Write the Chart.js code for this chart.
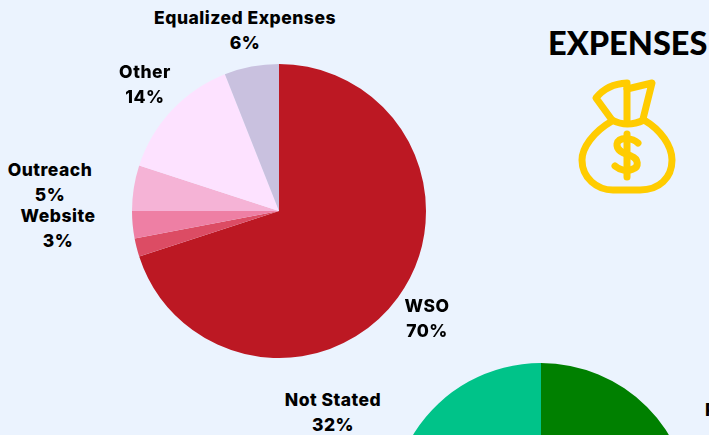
<!DOCTYPE html>
<html>
<head>
<meta charset="utf-8">
<script src="https://cdn.jsdelivr.net/npm/chart.js@4"></script>
<style>
html, body { margin: 0; padding: 0; width: 709px; height: 435px; overflow: hidden; background: #ebf3fe; }
body { position: relative; font-family: Inter, sans-serif; color: #000; }
canvas { position: absolute; }
#expensesChart { left: 132px; top: 64px; }
#secondChart { left: 391px; top: 363px; }
.label { position: absolute; transform: translateX(-50%); text-align: center; white-space: nowrap; font-weight: 800; font-size: 17.5px; letter-spacing: 0.5px; line-height: 25px; }
.cut { position: absolute; left: 705px; top: 397px; white-space: nowrap; font-weight: 800; font-size: 18px; line-height: 25px; }
h1 { position: absolute; left: 548px; top: 23px; margin: 0; font-family: Lato, sans-serif; font-size: 32.5px; line-height: 40px; font-weight: 900; white-space: nowrap; }
#bag { position: absolute; left: 575px; top: 76px; }
</style>
</head>
<body>
<canvas id="expensesChart" width="294" height="294"></canvas>
<canvas id="secondChart" width="300" height="300"></canvas>

<div class="label" style="left:245px;top:5px">Equalized Expenses<br>6%</div>
<div class="label" style="left:145px;top:59px">Other<br>14%</div>
<div class="label" style="left:50px;top:157px">Outreach<br>5%</div>
<div class="label" style="left:58px;top:203px">Website<br>3%</div>
<div class="label" style="left:427px;top:293px">WSO<br>70%</div>
<div class="label" style="left:333px;top:387px">Not Stated<br>32%</div>
<div class="cut">Paid</div>

<h1>EXPENSES</h1>

<svg id="bag" width="104" height="120" viewBox="0 0 104 120" fill="none" stroke="#ffcc00" stroke-width="7" stroke-linecap="round" stroke-linejoin="round">
  <path d="M37 45 C18 56 7 72 7 84 C7 102 22 114 38 114 L65 114 C84 114 97 102 97 84 C97 70 86 54 69 44"/>
  <path d="M37 44 Q52 52 69 44"/>
  <path d="M37 44 L21 22 Q32 8 52 7 L52 46"/>
  <path d="M52 13 L77 7 L68 43"/>
  <path d="M63 67 C58 62 44 60 42 68 C41 76 52 78 56 80 C64 83 64 91 58 93 C52 96 45 94 40 90"/>
  <path d="M52 58 L52 101"/>
</svg>

<script>
// expenses pie
const expenseLabels = ['WSO', 'Unlabeled', 'Website', 'Outreach', 'Other', 'Equalized Expenses'];
const expenseValues = [70, 2, 3, 5, 14, 6];
const expenseColors = ['#bc1823', '#dc4c64', '#ee7fa4', '#f5b3d6', '#fde2ff', '#c9c1df'];

// second pie, only the top shows in the picture
const secondLabels = ['Paid', 'Not Stated'];
const secondValues = [68, 32];
const secondColors = ['#008000', '#00c389'];

function makePie(id, labels, values, colors) {
    const ctx = document.getElementById(id).getContext('2d');
    return new Chart(ctx, {
        type: 'pie',
        data: {
            labels: labels,
            datasets: [{
                data: values,
                backgroundColor: colors,
                borderWidth: 0
            }]
        },
        options: {
            responsive: false,
            animation: false,
            layout: { padding: 0 },
            plugins: {
                legend: { display: false },
                tooltip: { enabled: false },
                title: { display: false }
            }
        }
    });
}

makePie('expensesChart', expenseLabels, expenseValues, expenseColors);
makePie('secondChart', secondLabels, secondValues, secondColors);
</script>
</body>
</html>
